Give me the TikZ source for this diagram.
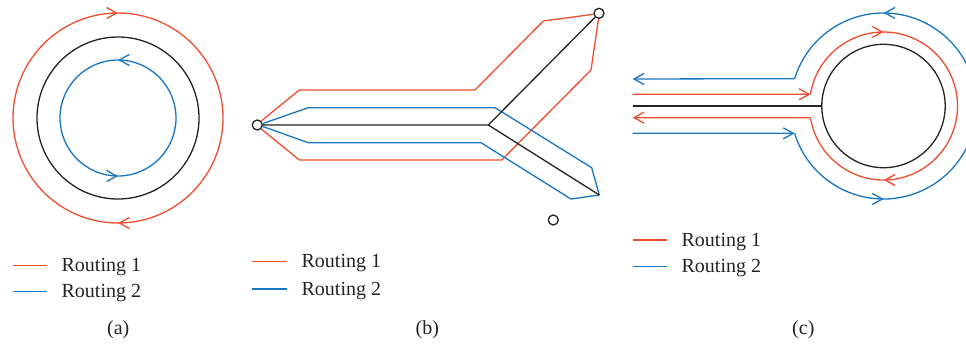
\documentclass[tikz,border=0pt]{standalone}
\usepackage{fontspec}
\setmainfont{Liberation Serif}
\usetikzlibrary{arrows.meta,decorations.markings,calc}
\definecolor{rred}{RGB}{238,78,48}
\definecolor{rblue}{RGB}{24,118,192}
\definecolor{rblack}{RGB}{35,35,35}
\begin{document}
\begin{tikzpicture}[x=1pt,y=1pt,line width=1.3pt,
  >={Straight Barb[length=10pt,width=11pt]},
  rone/.style={draw=rred},
  rtwo/.style={draw=rblue},
  blk/.style={draw=rblack},
  twomarks/.style 2 args={postaction={decorate,decoration={markings,
      mark=at position #1 with {\arrow{>}},
      mark=at position #2 with {\arrow{>}}}}},
  pin/.style={circle,draw=rblack,fill=white,minimum size=10pt,inner sep=0pt},
  legtxt/.style={anchor=base west,inner sep=0pt,text=rblack,font=\fontsize{20}{24}\selectfont},
  captxt/.style={anchor=base,inner sep=0pt,text=rblack,font=\fontsize{20}{24}\selectfont}]
\useasboundingbox (0,0) rectangle (966,-345);
\clip (0,0) rectangle (966,-345);

% ---------- (a) ----------
\coordinate (ca) at (118,-118);
\draw[rone,twomarks={0.25}{0.75}] ([xshift=-105pt]ca) arc[start angle=180,end angle=-180,radius=105];
\draw[blk] (ca) circle[radius=81];
\draw[rtwo,twomarks={0.25}{0.75}] ([xshift=58pt]ca) arc[start angle=0,end angle=360,radius=58];

\draw[rone] (12.7,-265.5) -- (47.3,-265.5);
\node[legtxt] (la1) at (61,-271.7) {Routing 1};
\draw[rtwo] (12.7,-291.5) -- (47.3,-291.5);
\node[legtxt] (la2) at (61,-297.7) {Routing 2};
\node[captxt] (capa) at (118.3,-334) {(a)};

% ---------- (b) ----------
\node[pin] (L) at (257.3,-125) {};
\node[pin] (TR) at (599,-13.3) {};
\node[pin] (lone) at (553.3,-220) {};
\coordinate (J) at (488.3,-125);
\coordinate (BR) at (599.3,-195);

\draw[rone] (L.45) -- (299.3,-90) -- (475,-90) -- (543.3,-21) -- (TR.190);
\draw[rone] (L.-45) -- (299.3,-160) -- (501.7,-160) -- (591,-70) -- (TR.265);
\draw[rtwo] (L.15) -- (308.3,-107.7) -- (495,-107.7) -- (591.7,-167.7) -- (BR);
\draw[rtwo] (L.-15) -- (308.3,-142.7) -- (481,-142.7) -- (571,-199) -- (BR);
\draw[blk] (L) -- (J) -- (TR);
\draw[blk] (J) -- (BR);

\draw[rone] (252.3,-261.5) -- (286.7,-261.5);
\node[legtxt] (lb1) at (301,-267.7) {Routing 1};
\draw[rtwo] (252.3,-289) -- (286.7,-289);
\node[legtxt] (lb2) at (301,-295) {Routing 2};
\node[captxt] (capb) at (427.3,-334) {(b)};

% ---------- (c) ----------
\coordinate (cc) at (883.5,-106);
\node[circle,blk,minimum size=123.4pt,inner sep=0pt] (C) at (cc) {};
\coordinate (stemL) at (632.7,-106);
\draw[blk] (stemL) -- (C.west);

% red routing
\coordinate (r1a) at (632.7,-94.3);
\coordinate (r1b) at ($(cc)+(170.9:74)$);
\coordinate (r1c) at ($(cc)+(-170.9:74)$);
\coordinate (r1d) at (632.7,-117.7);
\draw[rone,->] (r1a) -- (r1b);
\draw[rone,twomarks={0.237}{0.763}] (r1b) arc[start angle=170.9,end angle=-170.9,radius=74];
\draw[rone,->] (r1c) -- (r1d);

% blue routing
\coordinate (b1a) at (632.7,-133.3);
\coordinate (b1b) at ($(cc)+(-162.9:93)$);
\coordinate (b1c) at ($(cc)+(162.9:93)$);
\coordinate (b1d) at (632.7,-79);
\draw[rtwo,->] (b1a) -- (b1b);
\draw[rtwo,twomarks={0.224}{0.776}] (b1b) arc[start angle=-162.9,end angle=162.9,radius=93];
\draw[rtwo,->] (b1c) -- (b1d);

\draw[rone] (632.7,-240) -- (667.3,-240);
\node[legtxt] (lc1) at (681,-246) {Routing 1};
\draw[rtwo] (632.7,-266.5) -- (667.3,-266.5);
\node[legtxt] (lc2) at (681,-272.7) {Routing 2};
\node[captxt] (capc) at (803.3,-334) {(c)};
\end{tikzpicture}
\end{document}
